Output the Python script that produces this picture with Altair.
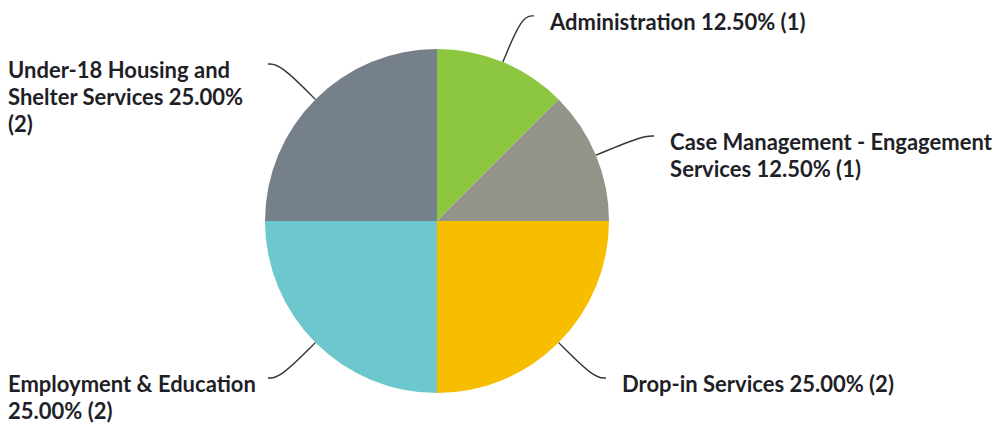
import altair as alt
import pandas as pd

categories = [
    "Administration",
    "Case Management - Engagement Services",
    "Drop-in Services",
    "Employment & Education",
    "Under-18 Housing and Shelter Services",
]
counts = [1, 1, 2, 2, 2]
# how each label wraps onto lines (text layout only)
label_breaks = [
    ["Administration {p} ({n})"],
    ["Case Management - Engagement", "Services {p} ({n})"],
    ["Drop-in Services {p} ({n})"],
    ["Employment & Education", "{p} ({n})"],
    ["Under-18 Housing and", "Shelter Services {p}", "({n})"],
]
colors = ["#8DC63F", "#93938A", "#F7BE00", "#6CC8CC", "#76808A"]

total = sum(counts)
labels = [
    "\n".join(line.format(p=f"{c / total * 100:.2f}%", n=c) for line in lines)
    for lines, c in zip(label_breaks, counts)
]

df = pd.DataFrame({
    "idx": list(range(len(categories))),
    "category": categories,
    "count": counts,
    "label": labels,
})

CX, CY, R = 429, 213, 172
R_ELBOW = 222
HOOK = 12

pie = alt.Chart(df).mark_arc(radius=R).encode(
    theta=alt.Theta("count:Q", stack=True),
    order=alt.Order("idx:Q"),
    color=alt.Color("category:N", scale=alt.Scale(domain=categories, range=colors), legend=None),
    x=alt.value(CX),
    y=alt.value(CY),
)

base = (
    alt.Chart(df)
    .transform_joinaggregate(total="sum(count)")
    .transform_window(cum="sum(count)", sort=[alt.SortField("idx")], frame=[None, 0])
    .transform_calculate(mid="(datum.cum - datum.count / 2) / datum.total * 2 * PI")
    .transform_calculate(
        side="sin(datum.mid) >= 0 ? 1 : -1",
        ex=f"{CX} + {R} * sin(datum.mid)",
        ey=f"{CY} - {R} * cos(datum.mid)",
        mx=f"{CX} + {R_ELBOW} * sin(datum.mid)",
        my=f"{CY} - {R_ELBOW} * cos(datum.mid)",
    )
    .transform_calculate(
        lx=f"datum.mx + datum.side * {HOOK}",
        ly="datum.my",
    )
)

leaders = (
    base.transform_calculate(pts="[0, 1, 2]")
    .transform_flatten(["pts"])
    .transform_calculate(
        px="datum.pts == 0 ? datum.ex : (datum.pts == 1 ? datum.mx : datum.lx)",
        py="datum.pts == 0 ? datum.ey : (datum.pts == 1 ? datum.my : datum.ly)",
    )
    .mark_line(color="#333333", strokeWidth=1.4, interpolate="basis")
    .encode(
        x=alt.X("px:Q", scale=None),
        y=alt.Y("py:Q", scale=None),
        detail="category:N",
        order="pts:Q",
    )
)

text = (
    base.transform_calculate(
        tx="datum.side > 0 ? datum.lx + 16 : datum.lx - 260",
        ty="datum.ly - 3",
    )
    .mark_text(
        align="left",
        baseline="top",
        font="Lato",
        fontWeight="bold",
        fontSize=22,
        lineHeight=27,
        lineBreak="\n",
        color="#1f1f28",
    )
    .encode(
        x=alt.X("tx:Q", scale=None),
        y=alt.Y("ty:Q", scale=None),
        text="label:N",
    )
)

chart = (
    alt.layer(pie, leaders, text)
    .properties(width=989, height=416, padding=0, autosize=alt.AutoSizeParams(type="none"))
    .configure_view(stroke=None)
)

chart.save("out.html", embed_options={"renderer": "svg", "actions": False})
